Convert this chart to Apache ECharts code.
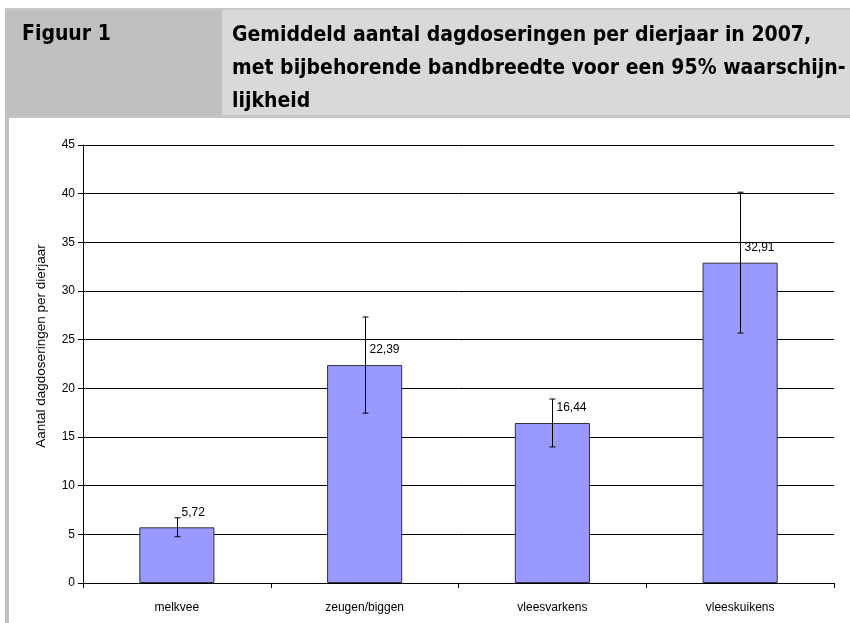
<!DOCTYPE html>
<html>
<head>
<meta charset="utf-8">
<script src="https://cdn.jsdelivr.net/npm/echarts@6/dist/echarts.min.js"></script>
<style>
  html, body { margin: 0; padding: 0; background: #fff; }
  #chart { width: 850px; height: 623px; }
</style>
</head>
<body>
<div id="chart"></div>
<script>
// gegevens uit de figuur
const categories = ["melkvee", "zeugen/biggen", "vleesvarkens", "vleeskuikens"];
const means = [5.72, 22.39, 16.44, 32.91];
const lower = [4.75, 17.45, 13.98, 25.68];
const upper = [6.7, 27.33, 18.9, 40.15];
const yTicks = [0, 45, 5]; // min, max, interval

const headFont = "'Liberation Sans Narrow', 'DejaVu Sans Condensed', sans-serif";
const axisFont = "'Liberation Sans', Arial, sans-serif";

let chart = echarts.init(document.getElementById("chart"));

// foutbalken + waardelabels
const errData = categories.map((c, i) => [i, lower[i], upper[i], means[i]]);

function renderErr(params, api) {
  const lo = api.coord([api.value(0), api.value(1)]);
  const hi = api.coord([api.value(0), api.value(2)]);
  const top = api.coord([api.value(0), api.value(3)]);
  const cx = Math.round(lo[0]) + 0.5;
  const cap = 3;
  const lineStyle = { stroke: "#000", lineWidth: 1 };
  return {
    type: "group",
    children: [
      { type: "line", shape: { x1: cx, y1: hi[1], x2: cx, y2: lo[1] }, style: lineStyle },
      { type: "line", shape: { x1: cx - cap, y1: hi[1], x2: cx + cap, y2: hi[1] }, style: lineStyle },
      { type: "line", shape: { x1: cx - cap, y1: lo[1], x2: cx + cap, y2: lo[1] }, style: lineStyle },
      {
        type: "text",
        style: {
          x: cx + 4,
          y: top[1] - 15,
          text: api.value(3).toFixed(2).replace(".", ","),
          font: "12px " + axisFont,
          fill: "#000",
          align: "left",
          verticalAlign: "middle"
        }
      }
    ]
  };
}

let option = {
  animation: false,
  backgroundColor: "#fff",
  graphic: [
    { type: "rect", shape: { x: 5, y: 8, width: 4, height: 615 }, style: { fill: "#c0c0c0" } },
    { type: "rect", shape: { x: 5, y: 8, width: 845, height: 2 }, style: { fill: "#c8c8c8" } },
    { type: "rect", shape: { x: 9, y: 10, width: 213, height: 106 }, style: { fill: "#c0c0c0" } },
    { type: "rect", shape: { x: 222, y: 10, width: 628, height: 106 }, style: { fill: "#d9d9d9" } },
    { type: "rect", shape: { x: 5, y: 115, width: 845, height: 3 }, style: { fill: "#c4c4c4" } },
    {
      type: "text",
      style: {
        x: 22, y: 35, text: "Figuur 1",
        font: "bold 21px " + headFont, fill: "#000", verticalAlign: "middle"
      }
    },
    {
      type: "text",
      style: {
        x: 232, y: 19,
        text: "Gemiddeld aantal dagdoseringen per dierjaar in 2007,\nmet bijbehorende bandbreedte voor een 95% waarschijn-\nlijkheid",
        font: "bold 21px " + headFont, lineHeight: 33, fill: "#000", verticalAlign: "top"
      }
    }
  ],
  grid: { left: 83, right: 16, top: 145, bottom: 40 },
  xAxis: {
    type: "category",
    data: categories,
    axisLine: { lineStyle: { color: "#000", width: 1 } },
    axisTick: { show: true, length: 5, lineStyle: { color: "#000" } },
    axisLabel: { color: "#000", fontSize: 12, fontFamily: axisFont, margin: 19 }
  },
  yAxis: {
    type: "value",
    min: yTicks[0],
    max: yTicks[1],
    interval: yTicks[2],
    name: "Aantal dagdoseringen per dierjaar",
    nameLocation: "middle",
    nameGap: 35,
    nameTextStyle: { color: "#000", fontSize: 13.5, fontFamily: axisFont, padding: [0, 0, 0, 36] },
    axisLine: { show: true, lineStyle: { color: "#000", width: 1 } },
    axisTick: { show: true, length: 5, lineStyle: { color: "#000" } },
    axisLabel: { color: "#000", fontSize: 12, fontFamily: axisFont, margin: 8 },
    splitLine: { lineStyle: { color: "#000", width: 1 } }
  },
  series: [
    {
      type: "bar",
      data: means,
      barWidth: "40%",
      itemStyle: { color: "#9999ff", borderColor: "#333", borderWidth: 1 }
    },
    {
      type: "custom",
      data: errData,
      renderItem: renderErr,
      encode: { x: 0, y: [1, 2] },
      z: 5
    }
  ]
};

chart.setOption(option);
</script>
</body>
</html>
